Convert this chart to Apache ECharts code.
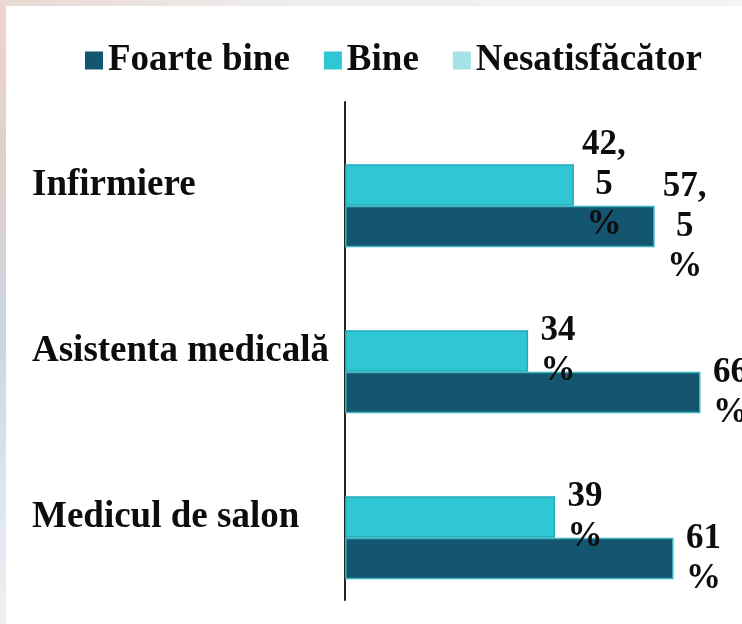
<!DOCTYPE html>
<html>
<head>
<meta charset="utf-8">
<script src="https://cdn.jsdelivr.net/npm/echarts@6/dist/echarts.min.js"></script>
<style>
  html, body { margin: 0; padding: 0; width: 742px; height: 624px; overflow: hidden; }
  body { background: linear-gradient(180deg, #ecd6ce 0%, #e2cfcb 28%, #c9d7e6 55%, #dfe6ee 80%, #eef0f3 100%); position: relative; }
  #top { position: absolute; left: 0; top: 0; width: 742px; height: 6px; background: linear-gradient(90deg, #e9d8d2 0%, #eeeeee 40%, #f4f4f4 100%); }
  #chart { position: absolute; left: 6px; top: 6px; width: 736px; height: 618px; background: #ffffff; }
</style>
</head>
<body>
<div id="top"></div>
<div id="chart"></div>
<script>
const categories = ['Infirmiere', 'Asistenta medicală', 'Medicul de salon'];
const seriesNames = ['Foarte bine', 'Bine', 'Nesatisfăcător'];
const foarteBine = [57.5, 66, 61];
const bine = [42.5, 34, 39];
const nesatisfacator = [null, null, null];
const colors = ['#14566f', '#2fc7d3', '#a5e2e6'];
const borderColors = ['#3bb4c2', '#22a9b5', '#8fd6db'];

function fmt(p) {
  if (p.value == null) return '';
  const s = String(p.value).replace('.', ',');
  if (s.indexOf(',') >= 0) {
    const parts = s.split(',');
    return parts[0] + ',\n' + parts[1] + '\n%';
  }
  return s + '\n%';
}

const labelStyle = {
  show: true,
  position: 'right',
  distance: 30,
  align: 'center',
  verticalAlign: 'middle',
  formatter: fmt,
  fontFamily: 'Liberation Serif',
  fontWeight: 'bold',
  fontSize: 35,
  lineHeight: 40,
  color: '#0d0d0d'
};

const dataSets = [foarteBine, bine, nesatisfacator];
// drawing order from top to bottom inside each band: Nesatisfăcător, Bine, Foarte bine
const drawOrder = [2, 1, 0];
const chart = echarts.init(document.getElementById('chart'));
chart.setOption({
  animation: false,
  legend: {
    data: seriesNames,
    left: 74,
    top: 31,
    itemWidth: 18,
    itemHeight: 18,
    itemGap: 34,
    icon: 'rect',
    selectedMode: false,
    itemStyle: { borderWidth: 0 },
    textStyle: { fontFamily: 'Liberation Serif', fontWeight: 'bold', fontSize: 37, lineHeight: 36, color: '#0d0d0d' }
  },
  grid: { left: 339, right: 20, top: 96, bottom: 24, containLabel: false },
  xAxis: {
    type: 'value', min: 0, max: 70,
    axisLine: { show: false }, axisTick: { show: false }, axisLabel: { show: false }, splitLine: { show: false }
  },
  yAxis: {
    type: 'category',
    data: categories,
    inverse: true,
    axisLine: { show: true, lineStyle: { color: '#222', width: 2 } },
    axisTick: { show: false },
    axisLabel: {
      align: 'left', margin: 313,
      fontFamily: 'Liberation Serif', fontWeight: 'bold', fontSize: 37, color: '#0d0d0d'
    }
  },
  series: drawOrder.map(i => ({
    name: seriesNames[i],
    type: 'bar',
    data: dataSets[i],
    barGap: '0%',
    barCategoryGap: '25%',
    itemStyle: { color: colors[i], borderColor: borderColors[i], borderWidth: 1.5 },
    label: labelStyle,
    z: 2
  }))
});
</script>
</body>
</html>
